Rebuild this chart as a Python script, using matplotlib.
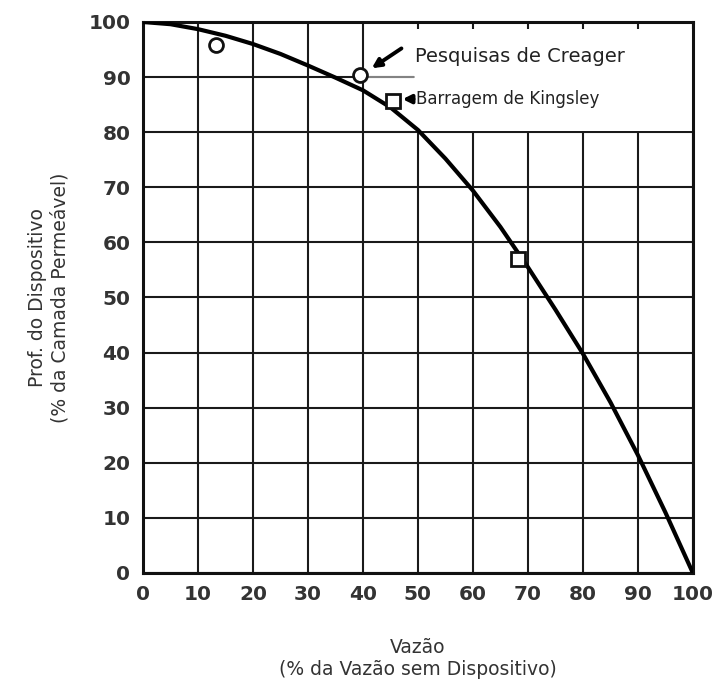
import matplotlib.pyplot as plt
from matplotlib.patches import Rectangle

# curve
curve_x = [0, 5, 10, 15, 20, 25, 30, 35, 40, 45, 50, 55, 60, 65, 70, 75, 80, 85, 90, 95, 100]
curve_y = [100, 99.6, 98.7, 97.5, 96.0, 94.2, 92.1, 89.9, 87.6, 84.5, 80.4, 75.2, 69.4, 62.8, 55.5, 47.8, 39.8, 31.0, 21.4, 11.0, 0]

# Pesquisas de Creager (circles)
creager_x = [13.2, 39.5]
creager_y = [95.8, 90.3]

# Barragem de Kingsley (squares)
kingsley_x = [45.4, 68.2]
kingsley_y = [85.6, 57.0]

ticks = list(range(0, 101, 10))

fig = plt.figure(figsize=(7.24, 6.87), dpi=100)
ax = fig.add_axes([0.1975, 0.166, 0.7595, 0.802])

ax.set_xlim(0, 100)
ax.set_ylim(0, 100)
ax.set_xticks(ticks)
ax.set_yticks(ticks)
ax.grid(True, color='#1a1a1a', linewidth=1.5)
ax.set_axisbelow(True)
for s in ax.spines.values():
    s.set_linewidth(2.2)
    s.set_color('#111111')
ax.tick_params(length=0, pad=9, labelsize=14.5, labelcolor='#333333')
for lab in ax.get_xticklabels() + ax.get_yticklabels():
    lab.set_fontweight('bold')

# white area behind the annotations (grid hidden there)
ax.add_patch(Rectangle((49.3, 80.3), 50.7, 18.4, facecolor='white', edgecolor='none', zorder=1.5))
ax.plot([39.5, 49.3], [90, 90], color='#999999', lw=1.2, zorder=1.6)

ax.plot(curve_x, curve_y, color='black', lw=3, zorder=3, solid_capstyle='round')
ax.plot(creager_x, creager_y, 'o', ms=10, mfc='white', mec='#111111', mew=2, zorder=4)
ax.plot(kingsley_x, kingsley_y, 's', ms=10, mfc='white', mec='#111111', mew=2, zorder=4)

# labels and arrows
ax.text(49.4, 93.8, 'Pesquisas de Creager', fontsize=14, color='#222222', va='center', ha='left', zorder=5)
ax.text(49.7, 86.0, 'Barragem de Kingsley', fontsize=12, color='#222222', va='center', ha='left', zorder=5)
ax.annotate('', xy=(41.6, 91.6), xytext=(47.0, 95.2),
            arrowprops=dict(arrowstyle='-|>', color='black', lw=2.8, mutation_scale=13,
                            shrinkA=0, shrinkB=0), zorder=5)
ax.annotate('', xy=(47.2, 86.0), xytext=(49.2, 86.0),
            arrowprops=dict(arrowstyle='-|>', color='black', lw=2.8, mutation_scale=12,
                            shrinkA=0, shrinkB=0), zorder=5)

ax.set_xlabel('Vazão\n(% da Vazão sem Dispositivo)', fontsize=13.5, color='#333333', labelpad=24)
ax.set_ylabel('Prof. do Dispositivo\n(% da Camada Permeável)', fontsize=13.5, color='#333333', labelpad=14)

fig.savefig('out.png', dpi=100, facecolor='white')
